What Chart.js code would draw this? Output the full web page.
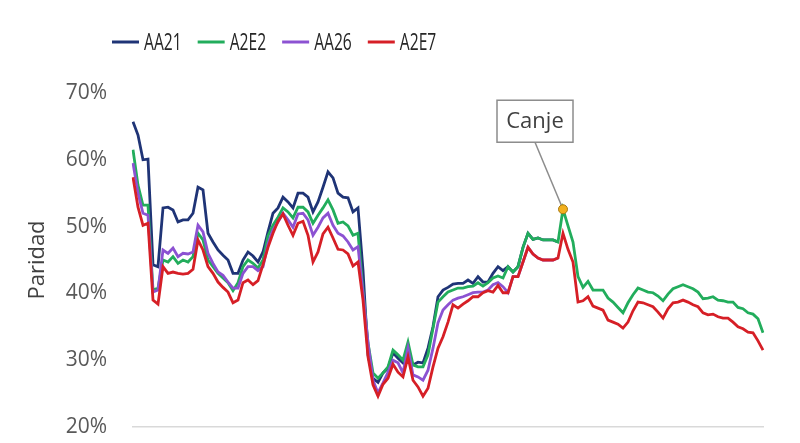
<!DOCTYPE html>
<html lang="es">
<head>
<meta charset="utf-8">
<title>Paridad</title>
<script src="https://cdn.jsdelivr.net/npm/chart.js@4.4.1/dist/chart.umd.min.js"></script>
<style>
  html, body { margin: 0; padding: 0; background: #fff; }
  #wrap { position: relative; width: 800px; height: 443px; }
</style>
</head>
<body>
<div id="wrap"><canvas id="chart"></canvas></div>
<script>
// Paridad (%) por bono, lectura diaria. AA21 y AA26 terminan en el canje.
const AA21 = [
  65.7, 63.7, 60.0, 60.1, 44.3, 44.0, 52.8, 52.9, 52.5, 50.7,
  51.0, 51.0, 52.0, 55.9, 55.5, 49.0, 47.7, 46.5, 45.7, 45.0,
  43.0, 43.0, 45.0, 46.2, 45.6, 44.7, 46.2, 49.2, 52.0, 52.8,
  54.4, 53.7, 52.8, 55.0, 55.0, 54.4, 52.2, 53.7, 55.9, 58.2,
  57.3, 55.0, 54.4, 54.3, 52.2, 52.8, 43.5, 30.8, 27.3, 26.7,
  28.1, 28.8, 31.1, 30.3, 29.6, 31.2, 29.3, 29.7, 29.6, 31.8,
  35.0, 39.5, 40.5, 40.9, 41.4, 41.5, 41.5, 42.0, 41.5, 42.5,
  41.7, 41.7, 43.0, 44.0, 43.4, 44.0, 43.2, 44.0, 46.9, 49.0,
  48.1, 48.3, 48.0, 48.0, 48.0, 47.7
];
const A2E2 = [
  61.5, 56.2, 53.2, 53.2, 40.5, 40.8, 45.0, 44.7, 45.5, 44.5,
  45.0, 44.7, 45.5, 49.0, 48.0, 45.0, 44.0, 43.0, 42.3, 41.6,
  40.4, 41.6, 44.0, 45.0, 44.5, 43.8, 45.0, 48.6, 50.2, 51.4,
  52.8, 52.2, 51.3, 52.9, 52.9, 52.2, 50.5, 51.7, 52.8, 54.0,
  52.5, 50.5, 50.7, 50.1, 48.7, 49.0, 40.5, 32.6, 28.1, 27.3,
  28.1, 29.0, 31.5, 30.8, 30.0, 32.7, 29.3, 29.0, 29.0, 30.8,
  34.8, 38.7, 39.5, 40.2, 40.5, 40.8, 40.8, 41.0, 41.1, 41.6,
  41.1, 41.6, 42.3, 42.6, 42.3, 44.0, 43.2, 44.0, 46.9, 49.0,
  48.1, 48.3, 48.0, 48.0, 48.0, 47.7, 52.6, 50.1, 47.7, 42.5,
  40.9, 41.8, 40.5, 40.5, 40.5, 39.3, 38.7, 37.9, 37.1, 38.6,
  39.8, 40.8, 40.5, 40.2, 40.1, 39.6, 38.9, 39.9, 40.7, 41.0,
  41.3, 41.0, 40.7, 40.2, 39.2, 39.3, 39.5, 39.0, 38.9, 38.7,
  38.7, 37.9, 37.7, 37.1, 36.9, 36.2, 34.1
];
const AA26 = [
  59.5, 55.0, 52.0, 51.7, 40.2, 40.5, 46.5, 46.0, 46.8, 45.5,
  46.0, 45.9, 46.2, 50.2, 49.2, 46.0, 44.5, 43.2, 42.7, 41.7,
  40.8, 40.8, 43.0, 44.0, 44.0, 43.4, 44.0, 47.4, 49.5, 50.7,
  52.0, 51.0, 49.9, 51.9, 52.0, 51.0, 48.7, 49.9, 51.3, 52.0,
  50.2, 49.0, 48.6, 47.7, 46.5, 47.0, 40.1, 32.6, 27.0, 25.1,
  26.6, 28.2, 30.0, 29.6, 28.1, 31.8, 27.8, 27.5, 27.0, 28.5,
  31.8, 35.6, 37.5, 38.3, 39.0, 39.3, 39.5, 39.8, 40.1, 40.2,
  40.2, 40.5, 41.3, 41.6, 41.0, 40.1, 42.5, 42.5, 44.7, 46.9,
  45.9, 45.3, 45.0, 45.0, 45.0, 45.3
];
const A2E7 = [
  57.4, 52.9, 50.2, 50.5, 39.0, 38.4, 44.0, 43.0, 43.2, 43.0,
  42.9, 43.0, 43.6, 48.0, 46.5, 44.0, 43.0, 41.7, 40.9, 40.2,
  38.6, 39.0, 41.6, 42.0, 41.3, 41.9, 44.3, 46.9, 49.0, 50.8,
  51.9, 50.2, 48.7, 50.5, 50.8, 48.7, 44.7, 46.2, 48.9, 49.9,
  48.3, 46.6, 46.5, 45.9, 44.1, 44.7, 39.0, 30.5, 26.3, 24.6,
  26.4, 27.3, 29.4, 28.2, 27.5, 30.5, 27.0, 26.0, 24.6, 25.8,
  29.0, 31.8, 33.5, 35.7, 38.3, 37.8, 38.4, 38.9, 39.5, 39.5,
  40.1, 40.4, 40.2, 41.2, 40.1, 40.1, 42.5, 42.5, 44.7, 46.9,
  45.9, 45.3, 45.0, 45.0, 45.0, 45.3, 49.0, 46.6, 44.7, 38.7,
  38.9, 39.5, 38.1, 37.8, 37.5, 36.0, 35.7, 35.4, 34.8, 35.7,
  37.4, 38.7, 38.6, 38.3, 38.0, 37.2, 36.3, 37.7, 38.6, 38.7,
  39.0, 38.7, 38.3, 38.0, 37.1, 36.8, 36.9, 36.5, 36.3, 36.3,
  35.7, 35.0, 34.7, 34.2, 34.1, 32.9, 31.5
];
const days = A2E2.map((_, i) => i + 1);
const yMin = 20, yMax = 70, yStep = 10;
const canjeIndex = 86;
const canjeText = "Canje";

const series = [
  { name: "AA21", data: AA21, color: "#1f3476" },
  { name: "A2E2", data: A2E2, color: "#22ad5c" },
  { name: "AA26", data: AA26, color: "#8c52d2" },
  { name: "A2E7", data: A2E7, color: "#d61f26" }
];

const FONT = "'Open Sans', 'Noto Sans', sans-serif";
Chart.defaults.font.family = FONT;

// legend drawn by hand: narrow text like the original
const lineLegend = {
  id: "lineLegend",
  afterDraw(chart) {
    const ctx = chart.ctx;
    const y = 42;
    let x = 112;
    ctx.save();
    ctx.font = "23px " + FONT;
    ctx.textBaseline = "middle";
    series.forEach(s => {
      ctx.strokeStyle = s.color;
      ctx.lineWidth = 3;
      ctx.beginPath();
      ctx.moveTo(x, y);
      ctx.lineTo(x + 27, y);
      ctx.stroke();
      x += 32;
      const w = ctx.measureText(s.name).width * 0.68;
      ctx.save();
      ctx.translate(x, y + 1);
      ctx.scale(0.68, 1);
      ctx.fillStyle = "#262626";
      ctx.fillText(s.name, 0, 0);
      ctx.restore();
      x += w + 16;
    });
    ctx.restore();
  }
};

const canjeNote = {
  id: "canjeNote",
  afterDatasetsDraw(chart) {
    const dsIndex = chart.data.datasets.findIndex(d => d.label === "A2E2");
    const pt = chart.getDatasetMeta(dsIndex).data[canjeIndex];
    if (!pt) return;
    const ctx = chart.ctx;
    const px = pt.x, py = pt.y;
    const bx = px - 66, by = py - 109, bw = 76, bh = 42;
    ctx.save();
    ctx.strokeStyle = "#8c8c8c";
    ctx.lineWidth = 1.5;
    ctx.beginPath();
    ctx.moveTo(px - 28, by + bh);
    ctx.lineTo(px, py);
    ctx.stroke();
    ctx.fillStyle = "#fff";
    ctx.fillRect(bx, by, bw, bh);
    ctx.strokeRect(bx, by, bw, bh);
    ctx.fillStyle = "#404040";
    ctx.font = "22px " + FONT;
    ctx.textAlign = "center";
    ctx.textBaseline = "middle";
    ctx.fillText(canjeText, bx + bw / 2, by + bh / 2 + 1);
    ctx.beginPath();
    ctx.arc(px, py, 4.5, 0, Math.PI * 2);
    ctx.fillStyle = "#f2b01e";
    ctx.fill();
    ctx.strokeStyle = "#a87a12";
    ctx.lineWidth = 1;
    ctx.stroke();
    ctx.restore();
  }
};

// first dataset is drawn on top, so list them in reverse (A2E7 on top)
const datasets = series.slice().reverse().map(s => ({
  label: s.name,
  data: s.data,
  borderColor: s.color,
  backgroundColor: s.color,
  borderWidth: 2.8,
  pointRadius: 0,
  tension: 0
}));

new Chart(document.getElementById("chart"), {
  type: "line",
  data: { labels: days, datasets: datasets },
  options: {
    responsive: true,
    maintainAspectRatio: false,
    animation: false,
    layout: { padding: { top: 93, right: 37, bottom: 16, left: 0 } },
    plugins: {
      legend: { display: false },
      tooltip: { enabled: false }
    },
    scales: {
      x: {
        grid: { display: false, drawTicks: false },
        ticks: { display: false },
        border: { display: true, color: "#d9d9d9", width: 1.5 },
        afterFit: s => { s.height = 0; }
      },
      y: {
        min: yMin,
        max: yMax,
        grid: { display: false, drawTicks: false },
        border: { display: false },
        ticks: {
          stepSize: yStep,
          padding: 26,
          color: "#595959",
          font: { size: 21 },
          callback: v => v + "%"
        },
        title: {
          display: true,
          text: "Paridad",
          color: "#404040",
          font: { size: 22 },
          padding: { top: 25, bottom: 0 }
        },
        afterFit: s => {
          s.width = 133;
          // tick padding is horizontal here; don't let it eat vertical room
          s.paddingTop = 0;
          s.paddingBottom = 13;
        }
      }
    }
  },
  plugins: [lineLegend, canjeNote]
});
</script>
</body>
</html>
